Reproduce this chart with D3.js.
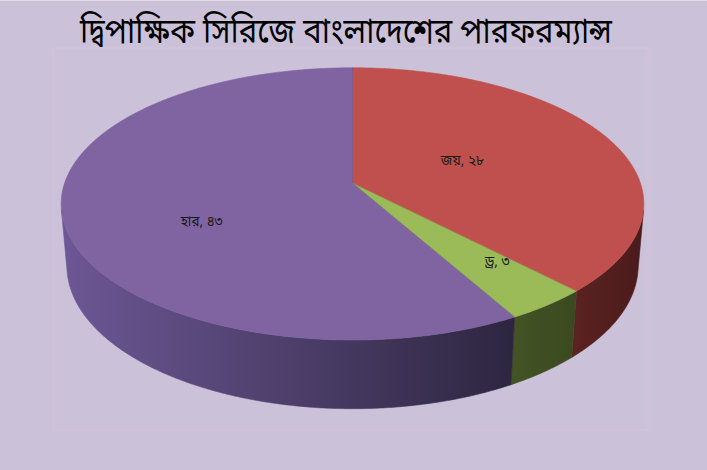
<!DOCTYPE html>
<html>
<head>
<meta charset="utf-8">
<script src="https://cdn.jsdelivr.net/npm/d3@7"></script>
<style>
  html, body { margin: 0; padding: 0; background: #CBC2DA; }
  svg { display: block; }
  text { font-family: "Noto Sans Bengali", "Noto Serif Bengali", "Lohit Bengali", "FreeSans", "Noto Sans", sans-serif; }
</style>
</head>
<body>
<svg id="chart" width="707" height="470"></svg>
<script>
// ---- data ----
const title = "দ্বিপাক্ষিক সিরিজে বাংলাদেশের পারফরম্যান্স";
const categories = ["জয়", "ড্র", "হার"];
const values = [28, 3, 43];

// ---- styles / layout ----
const topColors  = ["#C0504D", "#9BBB59", "#8064A2"];
const sideColors = [["#5A2221", "#4A1B1B"], ["#435324", "#3B4920"], ["#6D5795", "#2D2640"]];
// label anchor in pie plane: [angle shift (deg), radius fraction]
const labelPlace = [[-2.4, 0.43], [-4, 0.71], [-14.5, 0.574]];

const W = 707, H = 470;
const svg = d3.select("#chart");
svg.append("rect").attr("width", W).attr("height", H).attr("fill", "#CBC2DA");
svg.append("line").attr("x1", 0).attr("x2", W).attr("y1", 0.5).attr("y2", 0.5).attr("stroke", "#E2DCEA");
// plot area frame
svg.append("rect").attr("x", 53).attr("y", 48).attr("width", 595).attr("height", 382)
  .attr("fill", "none").attr("stroke", "#D6C3D8").attr("stroke-width", 1);

// title
svg.append("text").attr("x", 346).attr("y", 43).attr("text-anchor", "middle")
  .attr("font-size", 35).attr("fill", "#000")
  .attr("textLength", 532).attr("lengthAdjust", "spacingAndGlyphs")
  .text(title);

// ---- 3D projection ----
const cx = 352.5, cy = 183;
const alpha = 27.5 * Math.PI / 180, sA = Math.sin(alpha), cA = Math.cos(alpha);
const Dist = 5.78, focal = 1664, thick = 0.245;
const sx = d3.scaleLinear().domain([-1, 1]).range([cx - focal, cx + focal]);
const sy = d3.scaleLinear().domain([-1, 1]).range([cy + focal, cy - focal]);
// theta: clockwise from 12 o'clock (back of disk); r radius fraction; y height (0 top, negative down)
function proj(theta, r, y) {
  const x = r * Math.sin(theta), z = -r * Math.cos(theta);
  const d = y * sA + z * cA;
  const v = y * cA - z * sA;
  return [sx(x / (Dist - d)), sy(v / (Dist - d))];
}

const pie = d3.pie().sort(null).value(d => d)(values);
const line = d3.line().curve(d3.curveLinearClosed);
const step = Math.PI / 360;

function arcPts(a0, a1, r, y) {
  const n = Math.max(2, Math.ceil((a1 - a0) / step));
  return d3.range(n + 1).map(i => proj(a0 + (a1 - a0) * i / n, r, y));
}

// visible outer wall range: z > R/(D cos a)
const zVis = 1 / (Dist * cA);
const visLo = Math.acos(-zVis), visHi = 2 * Math.PI - Math.acos(-zVis);

const defs = svg.append("defs");
const walls = svg.append("g");
pie.forEach((p, i) => {
  const a0 = Math.max(p.startAngle, visLo), a1 = Math.min(p.endAngle, visHi);
  if (a1 <= a0) return;
  const top = arcPts(a0, a1, 1, 0);
  const bot = arcPts(a0, a1, 1, -thick).reverse();
  const xs = top.map(q => q[0]);
  const g = defs.append("linearGradient").attr("id", "wall" + i)
    .attr("gradientUnits", "userSpaceOnUse")
    .attr("x1", d3.min(xs)).attr("x2", d3.max(xs)).attr("y1", 0).attr("y2", 0);
  g.append("stop").attr("offset", 0).attr("stop-color", sideColors[i][0]);
  g.append("stop").attr("offset", 1).attr("stop-color", sideColors[i][1]);
  walls.append("path").attr("d", line(top.concat(bot)))
    .attr("fill", `url(#wall${i})`).attr("stroke", `url(#wall${i})`).attr("stroke-width", 0.6);
});

// top faces
const tops = svg.append("g");
pie.forEach((p, i) => {
  const pts = [proj(0, 0, 0)].concat(arcPts(p.startAngle, p.endAngle, 1, 0));
  tops.append("path").attr("d", line(pts)).attr("fill", topColors[i])
    .attr("stroke", topColors[i]).attr("stroke-width", 0.6);
});
// thin slice divider lines
pie.forEach((p, i) => {
  const c = proj(0, 0, 0), e = proj(p.startAngle, 1, 0);
  tops.append("line").attr("x1", c[0]).attr("y1", c[1]).attr("x2", e[0]).attr("y2", e[1])
    .attr("stroke", d3.color(topColors[(i + 2) % 3]).darker(0.6)).attr("stroke-opacity", 0.5).attr("stroke-width", 0.8);
});

// labels
const bn = "০১২৩৪৫৬৭৮৯";
const toBn = n => String(n).split("").map(ch => bn[+ch]).join("");
const labels = svg.append("g");
pie.forEach((p, i) => {
  const mid = (p.startAngle + p.endAngle) / 2 + labelPlace[i][0] * Math.PI / 180;
  const pt = proj(mid, labelPlace[i][1], 0);
  labels.append("text").attr("x", pt[0]).attr("y", pt[1]).attr("dy", "0.35em")
    .attr("text-anchor", "middle").attr("font-size", 13.5).attr("fill", "#1a1a1a")
    .text(categories[i] + ", " + toBn(values[i]));
});
</script>
</body>
</html>
